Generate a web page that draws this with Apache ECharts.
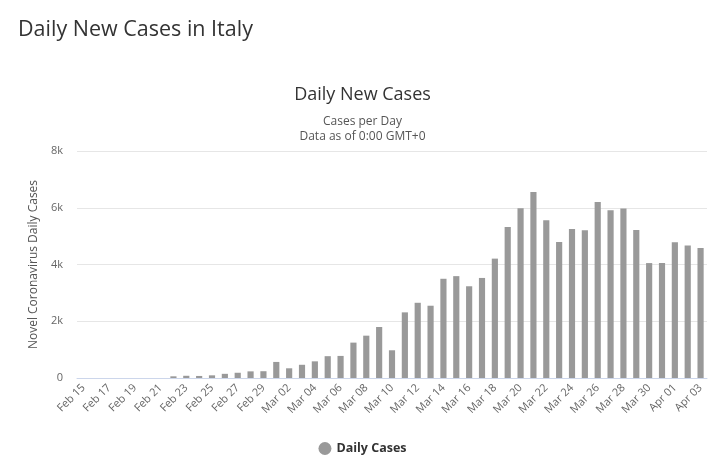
<!DOCTYPE html>
<html>
<head>
<meta charset="utf-8">
<script src="https://cdn.jsdelivr.net/npm/echarts@6/dist/echarts.min.js"></script>
<style>
    html, body { margin: 0; padding: 0; background: #fff; }
    #chart { width: 725px; height: 476px; }
</style>
</head>
<body>
<div id="chart"></div>
<script>
// dates shown on the x axis
var days = ['Feb 15','Feb 16','Feb 17','Feb 18','Feb 19','Feb 20','Feb 21','Feb 22','Feb 23','Feb 24',
    'Feb 25','Feb 26','Feb 27','Feb 28','Feb 29','Mar 01','Mar 02','Mar 03','Mar 04','Mar 05',
    'Mar 06','Mar 07','Mar 08','Mar 09','Mar 10','Mar 11','Mar 12','Mar 13','Mar 14','Mar 15',
    'Mar 16','Mar 17','Mar 18','Mar 19','Mar 20','Mar 21','Mar 22','Mar 23','Mar 24','Mar 25',
    'Mar 26','Mar 27','Mar 28','Mar 29','Mar 30','Mar 31','Apr 01','Apr 02','Apr 03'];

// new cases per day
var dailyCases = [0,0,0,0,0,0,0,59,78,72,
    94,147,185,234,239,566,342,466,587,769,
    778,1247,1492,1797,977,2313,2651,2547,3497,3590,
    3233,3526,4207,5322,5986,6557,5560,4789,5249,5210,
    6203,5909,5974,5217,4050,4053,4782,4668,4585];

var yTicks = [0, 2000, 4000, 6000, 8000];

var chart = echarts.init(document.getElementById('chart'));

var font = '"Open Sans", "DejaVu Sans", sans-serif';

var option = {
    animation: false,
    textStyle: { fontFamily: font },
    title: [
        {
            text: 'Daily New Cases in Italy',
            left: 13,
            top: 14,
            textStyle: { fontSize: 21.5, fontWeight: 'normal', color: '#333', fontFamily: font }
        },
        {
            text: 'Daily New Cases',
            left: 'center',
            top: 81,
            textStyle: { fontSize: 18, fontWeight: 'normal', color: '#333', fontFamily: font }
        },
        {
            text: 'Cases per Day\nData as of 0:00 GMT+0',
            left: 'center',
            top: 109,
            textStyle: { fontSize: 12, fontWeight: 'normal', color: '#555', lineHeight: 15, fontFamily: font }
        }
    ],
    legend: {
        bottom: 16,
        left: 'center',
        icon: 'circle',
        itemWidth: 13,
        itemHeight: 13,
        textStyle: { fontSize: 12.5, fontWeight: 'bold', color: '#333', fontFamily: font },
        data: ['Daily Cases']
    },
    grid: {
        left: 77,
        right: 18,
        top: 151,
        bottom: 98
    },
    xAxis: {
        type: 'category',
        data: days,
        axisLine: { lineStyle: { color: '#ccd6eb' } },
        axisTick: { show: false },
        axisLabel: {
            interval: 1,
            rotate: 45,
            color: '#666',
            fontSize: 11,
            margin: 8,
            fontFamily: font
        }
    },
    yAxis: {
        type: 'value',
        min: yTicks[0],
        max: yTicks[yTicks.length - 1],
        interval: 2000,
        name: 'Novel Coronavirus Daily Cases',
        nameLocation: 'middle',
        nameGap: 36,
        nameTextStyle: { color: '#555', fontSize: 12, fontFamily: font },
        axisLine: { show: false },
        axisTick: { show: false },
        splitLine: { lineStyle: { color: '#e6e6e6' } },
        axisLabel: {
            color: '#666',
            fontSize: 11,
            margin: 14,
            fontFamily: font,
            formatter: function (v) {
                return v == 0 ? '0' : (v / 1000) + 'k';
            }
        }
    },
    series: [
        {
            name: 'Daily Cases',
            type: 'bar',
            data: dailyCases,
            barCategoryGap: '52%',
            itemStyle: { color: '#999999' }
        }
    ]
};

chart.setOption(option);
</script>
</body>
</html>
